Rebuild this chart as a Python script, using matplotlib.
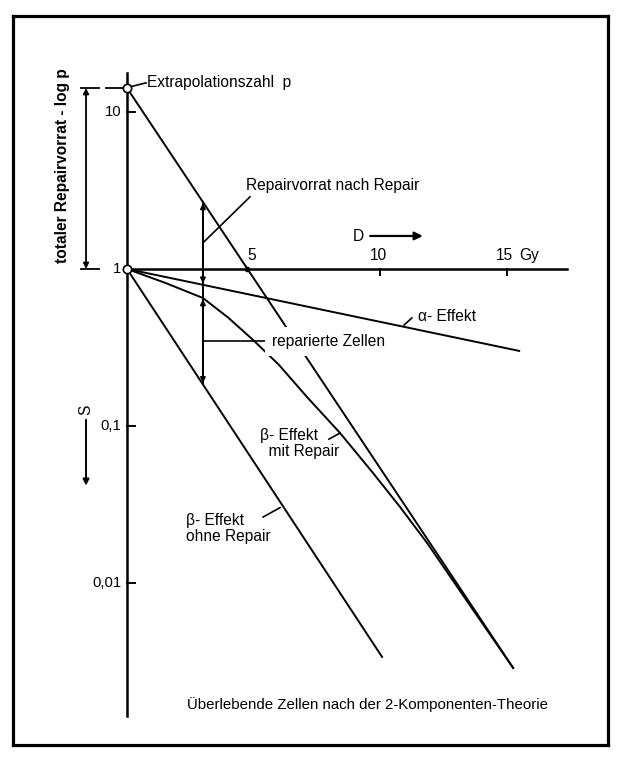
import numpy as np
import matplotlib
matplotlib.use('Agg')
import matplotlib.pyplot as plt

'''
Survival curves after the two-component theory: alpha effect, beta effect
with and without repair, and the multi-target asymptote that starts at the
extrapolation number p. Log survival S over dose D in Gy.
'''

# values (dose in Gy, log10 of survival S)
p_extrapolation = 14.2

dose_alpha = [0.0, 15.5]
logs_alpha = [0.0, -0.522]

dose_beta_ohne = [0.0, 10.08]
logs_beta_ohne = [0.0, -2.471]

dose_asymptote = [0.0, 15.26]
logs_asymptote = [np.log10(p_extrapolation), -2.541]

dose_beta_mit = [0.0, 1.5, 3.0, 4.0, 4.98, 6.0, 7.11, 8.42, 9.72, 10.79, 11.86, 13.5, 15.26]
logs_beta_mit = [0.0, -0.088, -0.185, -0.31, -0.452, -0.61, -0.815, -1.045, -1.299, -1.516, -1.745, -2.13, -2.541]

# vertical arrows at D = 3 Gy
arrow_dose = 3.0
logs_repairvorrat = [0.427, -0.101]   # asymptote -> alpha line
logs_repariert = [-0.185, -0.735]     # curve with repair -> beta without repair

x_ticks = [5, 10, 15]
x_tick_labels = ['5', '10', '15']
y_ticks = [10, 1, 0.1, 0.01]
y_tick_labels = ['10', '1', '0,1', '0,01']


def surv(logs):
    return 10 ** np.array(logs)


plt.rcParams['font.family'] = ['Liberation Sans', 'DejaVu Sans']
fs = 11.2

fig = plt.figure(figsize=(6.19, 7.67), dpi=100)
ax = fig.add_axes([13 / 619, 22 / 767, 595 / 619, 729 / 767])
ax.set_yscale('log')
ax.set_xlim(-4.506, 19.01)
ax.set_ylim(10 ** -3.032, 10 ** 1.611)
ax.set_xticks([])
ax.set_yticks([])
ax.minorticks_off()
for sp in ax.spines.values():
    sp.set_linewidth(2.3)

lw = 1.4
k = 'black'

# axes drawn by hand, like the drawing
ax.plot([0, 0], [10 ** 1.25, 10 ** -2.85], color=k, lw=1.8)
ax.plot([0, 17.4], [1, 1], color=k, lw=1.8)

# curves
ax.plot(dose_alpha, surv(logs_alpha), color=k, lw=lw)
ax.plot(dose_beta_ohne, surv(logs_beta_ohne), color=k, lw=lw)
ax.plot(dose_asymptote, surv(logs_asymptote), color=k, lw=lw)
ax.plot(dose_beta_mit, surv(logs_beta_mit), color=k, lw=lw)

# open circles at S = 1 and at p
ax.plot([0, 0], [1, p_extrapolation], 'o', ms=6, mfc='white', mec=k, mew=1.2, zorder=5)
ax.plot([4.76], [1], 'o', ms=3, color=k, zorder=5)

# ticks and tick labels
for t, lab in zip(x_ticks, x_tick_labels):
    if t != 5:
        ax.plot([t, t], [1, 10 ** -0.04], color=k, lw=1.4)
    ax.text(t - 0.08, 10 ** 0.085, lab, fontsize=fs, ha='center', va='center')
ax.text(15.9, 10 ** 0.085, 'Gy', fontsize=fs, ha='center', va='center')

for t, lab in zip(y_ticks, y_tick_labels):
    if t != 1:
        ax.plot([0, 0.3], [t, t], color=k, lw=1.4)
    ax.text(-0.22, t, lab, fontsize=fs - 0.5, ha='right', va='center')

# D arrow
ax.text(9.13, 10 ** 0.205, 'D', fontsize=fs, ha='center', va='center')
ax.annotate('', xy=(11.8, 10 ** 0.21), xytext=(9.5, 10 ** 0.21),
            arrowprops=dict(arrowstyle='-|>', color=k, lw=1.6, mutation_scale=12))

# left bracket for total repair reserve
ax.annotate('', xy=(-1.62, p_extrapolation), xytext=(-1.62, 1),
            arrowprops=dict(arrowstyle='<|-|>', color=k, lw=1.3, mutation_scale=8,
                            shrinkA=0, shrinkB=0))
ax.plot([-1.8, -1.1], [p_extrapolation, p_extrapolation], color=k, lw=1.3)
ax.plot([-0.85, -0.15], [p_extrapolation, p_extrapolation], color=k, lw=1.3)
ax.plot([-1.8, -1.1], [1, 1], color=k, lw=1.3)
ax.text(-2.55, 10 ** 0.66, 'totaler Repairvorrat - log p', fontsize=11.2, rotation=90,
        ha='center', va='center', fontweight='bold')

# S arrow
ax.text(-1.62, 10 ** -0.9, 'S', fontsize=fs, rotation=90, ha='center', va='center')
ax.annotate('', xy=(-1.62, 10 ** -1.38), xytext=(-1.62, 10 ** -0.96),
            arrowprops=dict(arrowstyle='-|>', color=k, lw=1.4, mutation_scale=9,
                            shrinkA=0, shrinkB=0))

# vertical arrows at 3 Gy
ax.plot([arrow_dose, arrow_dose], surv([logs_repairvorrat[0], logs_repariert[1]]), color=k, lw=1.4)
for seg in (logs_repairvorrat, logs_repariert):
    ax.annotate('', xy=(arrow_dose, 10 ** seg[0]), xytext=(arrow_dose, 10 ** seg[1]),
                arrowprops=dict(arrowstyle='<|-|>', color=k, lw=1.4, mutation_scale=7,
                                shrinkA=1, shrinkB=1))

# labels and leader lines
ax.plot([0.12, 0.75], [10 ** 1.16, 10 ** 1.185], color=k, lw=1.2)
ax.text(0.78, 10 ** 1.185, 'Extrapolationszahl  p', fontsize=fs, ha='left', va='center')

ax.plot([3.0, 4.86], [10 ** 0.166, 10 ** 0.459], color=k, lw=1.2)
ax.text(4.72, 10 ** 0.53, 'Repairvorrat nach Repair', fontsize=fs, ha='left', va='center')

ax.plot([3.0, 5.5], [10 ** -0.46, 10 ** -0.46], color=k, lw=1.2)
ax.text(5.75, 10 ** -0.465, 'reparierte Zellen', fontsize=fs, ha='left', va='center',
        bbox=dict(boxstyle='square,pad=0.45', fc='white', ec='none'))

ax.plot([10.95, 11.26], [10 ** -0.357, 10 ** -0.312], color=k, lw=1.2)
ax.text(11.5, 10 ** -0.3, 'α- Effekt', fontsize=fs, ha='left', va='center')

ax.plot([7.98, 8.42], [10 ** -1.084, 10 ** -1.045], color=k, lw=1.2)
ax.text(5.25, 10 ** -1.11, 'β- Effekt\n  mit Repair', fontsize=fs, ha='left', va='center',
        linespacing=1.1)

ax.plot([5.38, 6.05], [10 ** -1.58, 10 ** -1.52], color=k, lw=1.2)
ax.text(2.35, 10 ** -1.655, 'β- Effekt\nohne Repair', fontsize=fs, ha='left', va='center',
        linespacing=1.1)

ax.text(9.5, 10 ** -2.777, 'Überlebende Zellen nach der 2-Komponenten-Theorie',
        fontsize=10.8, ha='center', va='center')

fig.savefig('out.png', dpi=100)
